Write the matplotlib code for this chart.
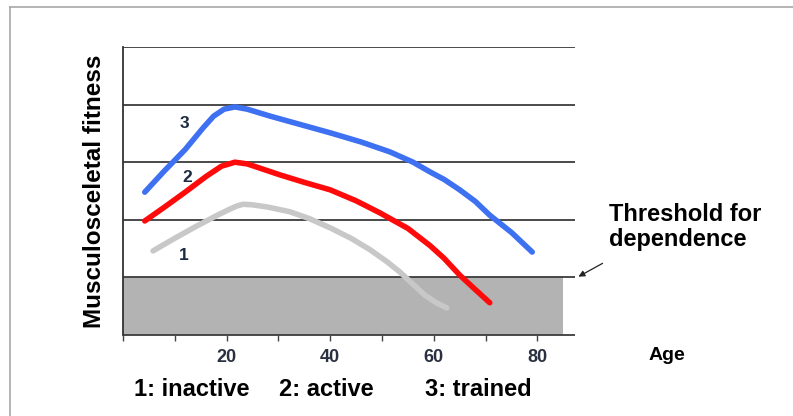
import matplotlib
matplotlib.use("Agg")
import matplotlib.pyplot as plt
from matplotlib.patches import Rectangle, FancyArrowPatch
from matplotlib.lines import Line2D

plt.rcParams['font.family'] = ['Liberation Sans', 'DejaVu Sans']

# Data
trained_age = [4.2, 8, 12, 15.5, 17.5, 19.5, 21.6, 24, 28.4, 34, 40, 46, 51.5, 56, 59.3, 62, 65, 68, 70.8, 75, 79]
trained_fit = [2.48, 2.85, 3.22, 3.6, 3.8, 3.92, 3.96, 3.92, 3.8, 3.66, 3.51, 3.35, 3.18, 3.0, 2.83, 2.7, 2.52, 2.32, 2.08, 1.78, 1.44]
active_age = [4.2, 8, 12, 16, 19, 21.6, 24, 30.3, 35, 40, 45, 49.6, 55, 59.3, 62, 65, 68, 70.8]
active_fit = [1.98, 2.22, 2.48, 2.75, 2.93, 3.0, 2.97, 2.78, 2.65, 2.52, 2.33, 2.12, 1.85, 1.55, 1.33, 1.04, 0.79, 0.56]
inactive_age = [5.8, 10, 14, 18, 20.5, 22, 23.2, 25, 28, 32.2, 36, 40, 44, 47.7, 51, 53.5, 56, 58.3, 60.5, 62.5]
inactive_fit = [1.46, 1.68, 1.88, 2.07, 2.18, 2.24, 2.27, 2.26, 2.22, 2.14, 2.02, 1.86, 1.68, 1.48, 1.27, 1.09, 0.88, 0.69, 0.56, 0.47]

xticks = [20, 40, 60, 80]
minor_ticks = [0, 10, 30, 50, 70]
grid_levels = [1, 2, 3, 4, 5]
threshold = 1.0
threshold_end = 85
legend_texts = ["1: inactive", "2: active", "3: trained"]

W, H = 793, 416
fig = plt.figure(figsize=(W / 100, H / 100), dpi=100)

# outer frame lines
fig.add_artist(Line2D([10 / W, 1], [1 - 7 / H, 1 - 7 / H], color='#a8a8a8', lw=1.2))
fig.add_artist(Line2D([10 / W, 10 / W], [0, 1 - 7 / H], color='#a8a8a8', lw=1.2))

x0, x1 = 123, 575
y0, y1 = 335, 47
ax = fig.add_axes([x0 / W, (H - y0) / H, (x1 - x0) / W, (y0 - y1) / H])
xmax = (x1 - x0) / 5.18
ax.set_xlim(0, xmax)
ax.set_ylim(0, 5)
for s in ['top', 'right', 'bottom']:
    ax.spines[s].set_visible(False)
ax.spines['left'].set_color('#333333')
ax.spines['left'].set_linewidth(1.3)
ax.set_yticks([])

ax.add_patch(Rectangle((0, 0), threshold_end, threshold, facecolor='#b3b3b3', edgecolor='none', zorder=1))
ax.hlines(grid_levels, 0, xmax, colors='#3c3c3c', lw=1.3, zorder=2)
ax.hlines([0], 0, xmax, colors='#3c3c3c', lw=1.3, zorder=2, clip_on=False)

ax.plot(inactive_age, inactive_fit, color='#c8c8c8', lw=4, solid_capstyle='round', solid_joinstyle='round', zorder=3)
ax.plot(active_age, active_fit, color='#ff0a0a', lw=4, solid_capstyle='round', solid_joinstyle='round', zorder=4)
ax.plot(trained_age, trained_fit, color='#3e70f2', lw=4, solid_capstyle='round', solid_joinstyle='round', zorder=5)

ax.set_xticks(xticks)
ax.set_xticks(minor_ticks, minor=True)
ax.tick_params(axis='x', which='both', direction='out', length=4, width=1, color='#444444')
ax.set_xticklabels([str(t) for t in xticks], fontsize=13, fontweight='bold', color='#2a3040')
ax.tick_params(axis='x', which='major', pad=6)

ax.text(11.8, (335 - 124) / 57.6, "3", fontsize=12.5, fontweight='bold', color='#1e2a40', ha='center', va='center')
ax.text(12.4, (335 - 177) / 57.6, "2", fontsize=12.5, fontweight='bold', color='#1e2a40', ha='center', va='center')
ax.text(11.8, (335 - 255) / 57.6, "1", fontsize=12.5, fontweight='bold', color='#1e2a40', ha='center', va='center')

fig.text(95 / W, 1 - 191 / H, "Musculosceletal fitness", rotation=90, fontsize=17.5,
         fontweight='bold', ha='center', va='center')
fig.text(667 / W, 1 - 356 / H, "Age", fontsize=14, fontweight='bold', ha='center', va='center')
fig.text(609 / W, 1 - 227 / H, "Threshold for\ndependence", fontsize=17, fontweight='bold',
         ha='left', va='center', linespacing=1.1)
fig.add_artist(FancyArrowPatch((605 / W, 1 - 262 / H), (576 / W, 1 - 278 / H),
                               transform=fig.transFigure, arrowstyle='-|>',
                               mutation_scale=9, color='#222222', lw=0.9))

fig.text(134 / W, 1 - 390 / H, legend_texts[0], fontsize=17, fontweight='bold', ha='left', va='center')
fig.text(279 / W, 1 - 390 / H, legend_texts[1], fontsize=17, fontweight='bold', ha='left', va='center')
fig.text(425 / W, 1 - 390 / H, legend_texts[2], fontsize=17, fontweight='bold', ha='left', va='center')

fig.savefig("out.png", dpi=100)
